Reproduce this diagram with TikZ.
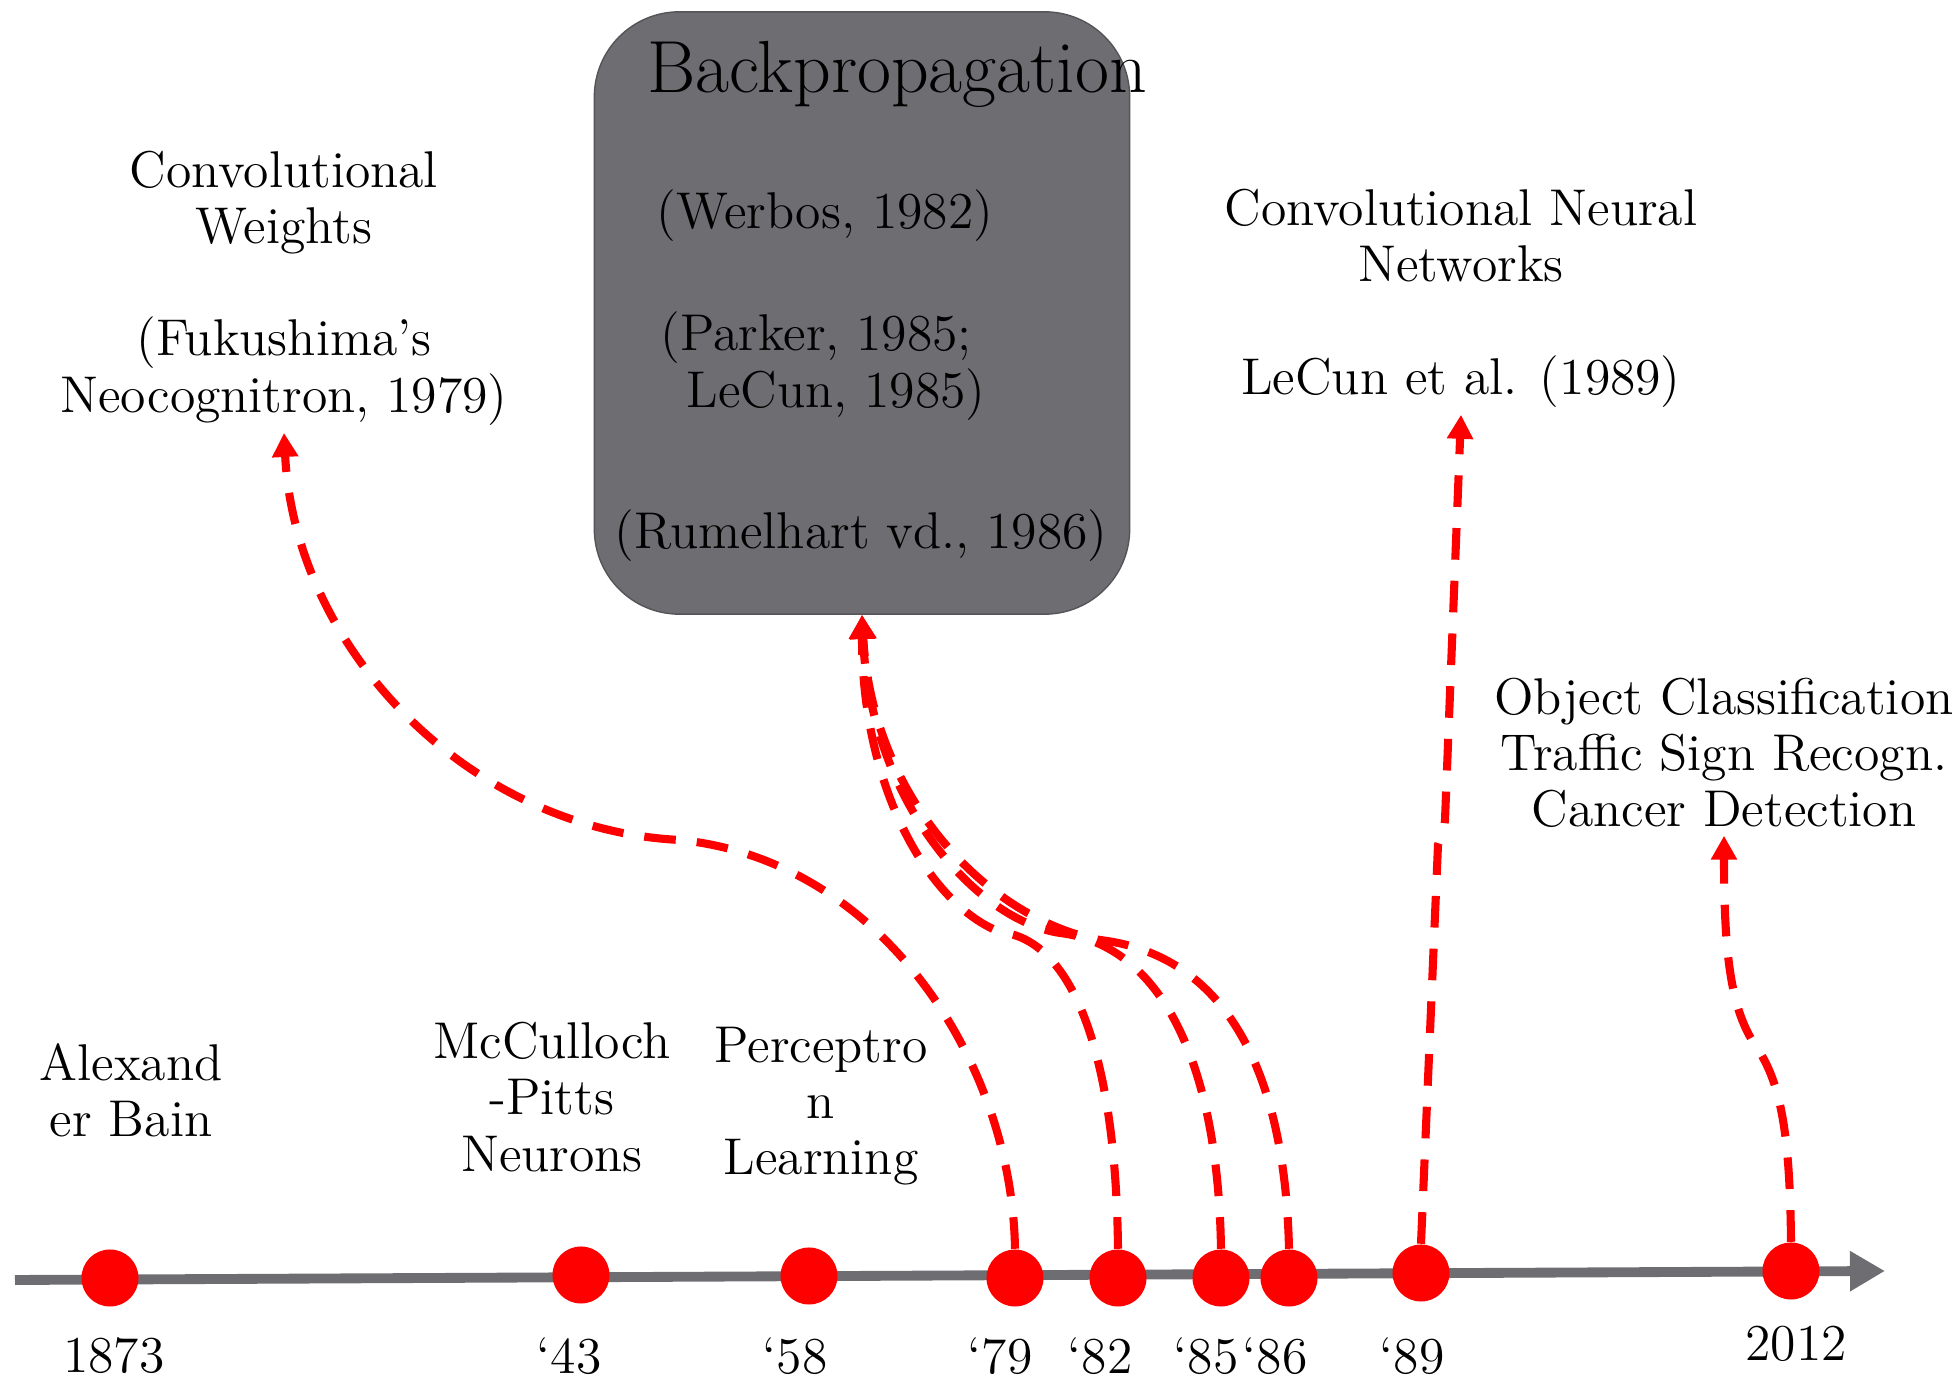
\documentclass[tikz,border=0pt]{standalone}
\usetikzlibrary{arrows.meta}

\definecolor{grisLinea}{RGB}{110,109,114}
\definecolor{grisBorde}{RGB}{85,84,89}

\begin{document}
\begin{tikzpicture}[
    x=0.01cm, y=-0.01cm,
    font=\fontsize{14.7}{16}\selectfont,
    hito/.style={circle, fill=red, minimum size=0.57cm, inner sep=0pt},
    enlace/.style={-{Triangle[length=0.24cm,width=0.25cm]}, red, line width=2.3pt,
      dash pattern=on 9pt off 6pt},
    texto/.style={align=center, inner sep=2pt},
    anio/.style={inner sep=0pt}
  ]

    \useasboundingbox (0,0) rectangle (1959,1383);

    % --- Eje temporal ---
    \draw[grisLinea, line width=2.8pt, -{Triangle[length=0.35cm,width=0.38cm]}]
      (15,1280) -- (1885,1271);

    % Hitos sobre el eje
    \node[hito] (d1873) at (110,1278) {};
    \node[hito] (d43)   at (581,1275) {};
    \node[hito] (d58)   at (809,1276) {};
    \node[hito] (d79)   at (1015,1278) {};
    \node[hito] (d82)   at (1118,1278) {};
    \node[hito] (d85)   at (1221,1278) {};
    \node[hito] (d86)   at (1289,1278) {};
    \node[hito] (d89)   at (1421,1273) {};
    \node[hito] (d2012) at (1791,1271) {};

    % Años bajo el eje
    \node[anio] (a1873) at (114,1356) {1873};
    \node[anio] (a43)   at (569,1356) {`43};
    \node[anio] (a58)   at (795,1356) {`58};
    \node[anio] (a79)   at (1000,1356) {`79};
    \node[anio] (a82)   at (1100,1356) {`82};
    \node[anio] (a85)   at (1206,1356) {`85};
    \node[anio] (a86)   at (1275,1356) {`86};
    \node[anio] (a89)   at (1412,1356) {`89};
    \node[anio] (a2012) at (1796,1344) {2012};

    % --- Etiquetas de los hitos ---
    \node[texto] (bain) at (131,1090) {Alexand\\er Bain};
    \node[texto] (mcp)  at (552,1097) {McCulloch\\-Pitts\\Neurons};
    \node[texto] (perc) at (821,1106) {Perceptro\\n\\Learning};

    \node[texto] (fuku) at (284,288)
      {Convolutional\\Weights\\[16pt](Fukushima's\\Neocognitron, 1979)};
    \node[texto] (cnn) at (1461,298)
      {Convolutional Neural\\Networks\\[16pt]LeCun et al. (1989)};
    \node[texto] (app) at (1724,753)
      {Object Classification\\Traffic Sign Recogn.\\Cancer Detection};

    % --- Caja de retropropagación ---
    \node[draw=grisBorde, fill=grisLinea, rounded corners=0.85cm,
      minimum width=5.35cm, minimum height=6.02cm] (caja) at (862,313) {};
    \node[font=\fontsize{21}{24}\selectfont] (bp) at (897,74) {Backpropagation};
    \node (werbos) at (825,216) {(Werbos, 1982)};
    \node[align=left, inner sep=0pt] (parker) at (823,366)
      {(Parker, 1985;\\\hspace*{7.5pt}LeCun, 1985)};
    \node (rumel) at (861,536) {(Rumelhart vd., 1986)};

    % --- Enlaces ---
    \draw[enlace] (d79.north) .. controls (1012,1060) and (880,860) .. (680,840)
      .. controls (470,830) and (295,650) .. (fuku.south);
    \draw[enlace] (d82.north) .. controls (1116,1060) and (1075,940) .. (1000,932)
      .. controls (930,905) and (862,790) .. (caja.south);
    \draw[enlace] (d85.north) .. controls (1218,1060) and (1160,945) .. (1060,933)
      .. controls (975,920) and (870,800) .. (caja.south);
    \draw[enlace] (d86.north) .. controls (1285,1070) and (1225,955) .. (1100,940)
      .. controls (990,920) and (872,800) .. (caja.south);
    \draw[enlace] (d89.north) -- (1438,845)
      .. controls (1441,835) and (1444,832) .. (1445,820) -- (cnn.south);
    \draw[enlace] (d2012.north) .. controls (1790,1130) and (1780,1080) .. (1755,1045)
      .. controls (1732,1010) and (1724,960) .. (app.south);

\end{tikzpicture}
\end{document}
